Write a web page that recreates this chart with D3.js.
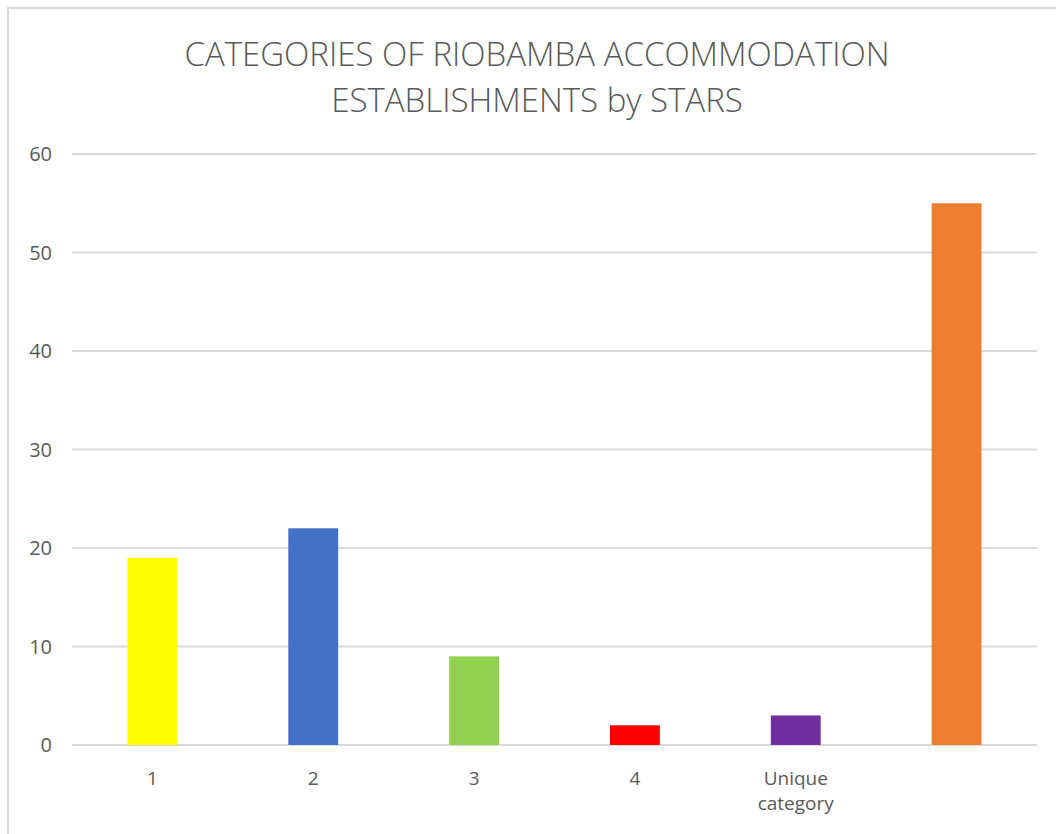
<!DOCTYPE html>
<html>
<head>
<meta charset="utf-8">
<script src="https://cdn.jsdelivr.net/npm/d3@7"></script>
<style>
  body { margin: 0; background: #fff; }
  text { font-family: "Open Sans", "Liberation Sans", sans-serif; fill: #595959; }
</style>
</head>
<body>
<div id="chart"></div>
<script>
// chart data
const categories = ["1", "2", "3", "4", "Unique category", ""];
const counts = [19, 22, 9, 2, 3, 55];
const barColors = ["#FFFF00", "#4472C4", "#92D050", "#FF0000", "#7030A0", "#ED7D31"];
const yTicks = [0, 10, 20, 30, 40, 50, 60];
const titleLines = ["CATEGORIES OF RIOBAMBA ACCOMMODATION", "ESTABLISHMENTS by STARS"];

const W = 1056, H = 834;
const margin = {top: 154, right: 19, bottom: 89, left: 72};

let svg = d3.select("#chart").append("svg")
    .attr("width", W).attr("height", H);

// outer frame (cut off on right/bottom like the screenshot)
svg.append("path")
    .attr("d", `M8,${H} L8,8 L${W},8`)
    .attr("fill", "none")
    .attr("stroke", "#d9d9d9")
    .attr("stroke-width", 2);

svg.selectAll("text.title")
    .data(titleLines)
    .enter()
    .append("text")
    .attr("class", "title")
    .attr("x", 537)
    .attr("y", (d, i) => 66 + i * 46)
    .attr("text-anchor", "middle")
    .attr("font-size", 33)
    .attr("font-weight", 300)
    .text(d => d);

let x = d3.scaleBand()
    .domain(categories)
    .range([margin.left, W - margin.right])
    .paddingInner(0.69)
    .paddingOuter(0.345);

let y = d3.scaleLinear()
    .domain([0, 60])
    .range([H - margin.bottom, margin.top]);

// gridlines
svg.selectAll("line.grid")
    .data(yTicks)
    .enter()
    .append("line")
    .attr("class", "grid")
    .attr("x1", margin.left)
    .attr("x2", W - margin.right)
    .attr("y1", d => y(d))
    .attr("y2", d => y(d))
    .attr("stroke", "#d9d9d9")
    .attr("stroke-width", 2);

// y labels
svg.selectAll("text.ylab")
    .data(yTicks)
    .enter()
    .append("text")
    .attr("class", "ylab")
    .attr("x", 52)
    .attr("y", d => y(d))
    .attr("dy", "0.36em")
    .attr("text-anchor", "end")
    .attr("font-size", 20)
    .text(d => d);

// bars
svg.selectAll("rect.bar")
    .data(counts)
    .enter()
    .append("rect")
    .attr("class", "bar")
    .attr("x", (d, i) => x(categories[i]))
    .attr("width", x.bandwidth())
    .attr("y", d => y(d))
    .attr("height", d => y(0) - y(d))
    .attr("fill", (d, i) => barColors[i]);

// x labels (wrap on spaces)
let xl = svg.selectAll("text.xlab")
    .data(categories)
    .enter()
    .append("text")
    .attr("class", "xlab")
    .attr("text-anchor", "middle")
    .attr("font-size", 19);

xl.each(function(d) {
    let words = d.split(" ");
    let t = d3.select(this);
    words.forEach((w, j) => {
        t.append("tspan")
            .attr("x", x(d) + x.bandwidth() / 2)
            .attr("y", 785 + j * 25)
            .text(w);
    });
});
</script>
</body>
</html>
